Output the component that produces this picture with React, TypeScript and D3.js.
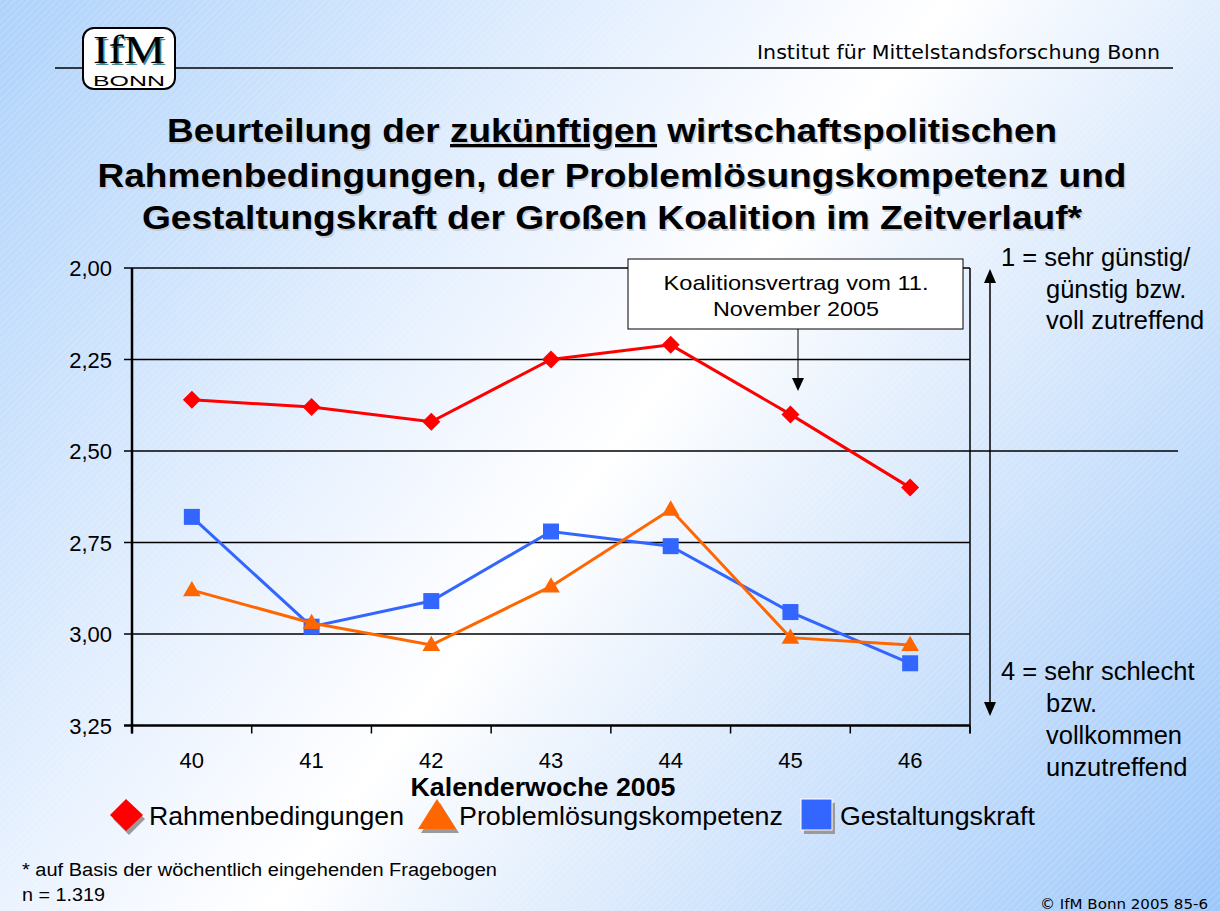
import React from "react";
import * as d3 from "d3";

const weeks = ["40", "41", "42", "43", "44", "45", "46"];
const rahmen = [2.36, 2.38, 2.42, 2.25, 2.21, 2.4, 2.6];
const problem = [2.88, 2.97, 3.03, 2.87, 2.66, 3.01, 3.03];
const gestalt = [2.68, 2.98, 2.91, 2.72, 2.76, 2.94, 3.08];
const yTicks = [2, 2.25, 2.5, 2.75, 3, 3.25];
const seriesNames = ["Rahmenbedingungen", "Problemlösungskompetenz", "Gestaltungskraft"];
const seriesColors = ["#ff0000", "#ff6600", "#3366ff"];
const titleLines = [
  ["Beurteilung der ", "zukünftigen", " wirtschaftspolitischen"],
  ["Rahmenbedingungen, der Problemlösungskompetenz und"],
  ["Gestaltungskraft der Großen Koalition im Zeitverlauf*"],
];
const scaleTop = ["1 = sehr günstig/", "günstig bzw.", "voll zutreffend"];
const scaleBottom = ["4 = sehr schlecht", "bzw.", "vollkommen", "unzutreffend"];
const annotation = ["Koalitionsvertrag vom 11.", "November 2005"];
const xTitle = "Kalenderwoche 2005";
const header = "Institut für Mittelstandsforschung Bonn";
const footnote = "* auf Basis der wöchentlich eingehenden Fragebogen";
const nText = "n = 1.319";
const copyright = "© IfM Bonn 2005  85-6";

const W = 1220;
const H = 911;
const plot = { left: 132, right: 970, top: 268, bottom: 725.5 };
const ARIAL = "Arial, 'Liberation Sans', sans-serif";
const TAHOMA = "Tahoma, 'DejaVu Sans', sans-serif";

export default function App() {
  const x = d3.scalePoint<string>().domain(weeks).range([plot.left, plot.right]).padding(0.5);
  const step = x.step();
  const y = d3.scaleLinear().domain([2, 3.25]).range([plot.top, plot.bottom]);
  const fmt = (v: number) => d3.format(".2f")(v).replace(".", ",");
  const line = d3
    .line<number>()
    .x((_, i) => x(weeks[i]) as number)
    .y((d) => y(d));

  const diamond = d3.symbol(d3.symbolSquare, 162)();
  const square = d3.symbol(d3.symbolSquare, 256)();
  const tri = d3.symbol(d3.symbolTriangle, 135)();

  const boundaries = d3.range(weeks.length + 1).map((i) => plot.left + i * step);

  const drawSeries = (vals: number[], color: string, kind: string, key: string) => (
    <g key={key}>
      <path d={line(vals) as string} fill="none" stroke={color} strokeWidth={3} />
      {vals.map((v, i) => {
        const cx = x(weeks[i]) as number;
        const cy = y(v);
        if (kind === "diamond")
          return <path key={i} d={diamond as string} fill={color} transform={`translate(${cx},${cy}) rotate(45)`} />;
        if (kind === "square")
          return <path key={i} d={square as string} fill={color} transform={`translate(${cx},${cy})`} />;
        return <path key={i} d={tri as string} fill={color} transform={`translate(${cx},${cy + 1})`} />;
      })}
    </g>
  );

  const titleWidths = [890, 1029, 940];
  const titleBase = [142, 187, 229];

  return (
    <svg width={W} height={H} style={{ position: "absolute", left: 0, top: 0 }} fontFamily={ARIAL}>
      <defs>
        <linearGradient id="bg" gradientUnits="userSpaceOnUse" x1={0} y1={0} x2={W} y2={H}>
          <stop offset="0" stopColor="#aed2fb" />
          <stop offset="0.42" stopColor="#f4f8ff" />
          <stop offset="0.5" stopColor="#ffffff" />
          <stop offset="0.62" stopColor="#e6f0fd" />
          <stop offset="1" stopColor="#9cc7fa" />
        </linearGradient>
        <pattern id="hatch" width={5} height={5} patternUnits="userSpaceOnUse" patternTransform="rotate(45)">
          <line x1={0} y1={0} x2={0} y2={5} stroke="#ffffff" strokeWidth={1} opacity={0.35} />
        </pattern>
      </defs>
      <rect x={0} y={0} width={W} height={H} fill="url(#bg)" />
      <rect x={0} y={0} width={W} height={H} fill="url(#hatch)" />

      {/* header */}
      <line x1={55} x2={83} y1={68} y2={68} stroke="#000" strokeWidth={1.5} />
      <line x1={175} x2={1173} y1={68} y2={68} stroke="#000" strokeWidth={1.5} />
      <rect x={83} y={28} width={92} height={61} rx={11} fill="#fff" stroke="#000" strokeWidth={2} />
      <text x={130.5} y={64.5} textAnchor="middle" fontFamily="'Liberation Serif', 'DejaVu Serif', serif" fontSize={40} fill="#3a8a99" textLength={72} lengthAdjust="spacingAndGlyphs">IfM</text>
      <text x={129} y={63} textAnchor="middle" fontFamily="'Liberation Serif', 'DejaVu Serif', serif" fontSize={40} fill="#000" textLength={72} lengthAdjust="spacingAndGlyphs">IfM</text>
      <text x={129} y={86} textAnchor="middle" fontFamily={ARIAL} fontSize={15} textLength={72} lengthAdjust="spacingAndGlyphs">BONN</text>
      <text x={757} y={59} fontFamily={TAHOMA} fontSize={19} textLength={403} lengthAdjust="spacingAndGlyphs">{header}</text>

      {/* title */}
      {titleLines.map((parts, li) => (
        <g key={li} fontWeight="bold" fontSize={33}>
          <text x={612 + 1.5} y={titleBase[li] + 1.5} textAnchor="middle" fill="#c4ccd6" textLength={titleWidths[li]} lengthAdjust="spacingAndGlyphs">
            {parts.map((p, pi) => (
              <tspan key={pi}>{p}</tspan>
            ))}
          </text>
          <text x={612} y={titleBase[li]} textAnchor="middle" fill="#000" textLength={titleWidths[li]} lengthAdjust="spacingAndGlyphs">
            {parts.map((p, pi) => (
              <tspan key={pi} style={pi === 1 ? { textDecoration: "underline" } : undefined}>{p}</tspan>
            ))}
          </text>
        </g>
      ))}

      {/* grid + axes */}
      {yTicks.map((t) => (
        <g key={t}>
          <line
            x1={plot.left - 8}
            x2={t === 2.5 ? 1178 : plot.right}
            y1={y(t)}
            y2={y(t)}
            stroke="#000"
            strokeWidth={t === 3.25 ? 2.5 : 1.5}
          />
          <text x={112} y={y(t) + 8} textAnchor="end" fontSize={22}>{fmt(t)}</text>
        </g>
      ))}
      <line x1={plot.left} x2={plot.left} y1={plot.top} y2={plot.bottom + 8} stroke="#000" strokeWidth={2.5} />
      <line x1={plot.right} x2={plot.right} y1={plot.top} y2={plot.bottom + 8} stroke="#000" strokeWidth={1.5} />
      {boundaries.map((bx, i) => (
        <line key={i} x1={bx} x2={bx} y1={plot.bottom} y2={plot.bottom + 8} stroke="#000" strokeWidth={1.5} />
      ))}
      {weeks.map((w) => (
        <text key={w} x={x(w) as number} y={768} textAnchor="middle" fontSize={22}>{w}</text>
      ))}
      <text x={543} y={796} textAnchor="middle" fontSize={25} fontWeight="bold" textLength={265} lengthAdjust="spacingAndGlyphs">{xTitle}</text>

      {/* series */}
      {drawSeries(rahmen, seriesColors[0], "diamond", "r")}
      {drawSeries(gestalt, seriesColors[2], "square", "g")}
      {drawSeries(problem, seriesColors[1], "tri", "p")}

      {/* annotation */}
      <rect x={628} y={259} width={335} height={70} fill="#fff" stroke="#000" strokeWidth={1} />
      <text x={796} y={290} textAnchor="middle" fontSize={21} textLength={265} lengthAdjust="spacingAndGlyphs">{annotation[0]}</text>
      <text x={796} y={316} textAnchor="middle" fontSize={21} textLength={166} lengthAdjust="spacingAndGlyphs">{annotation[1]}</text>
      <line x1={798} x2={798} y1={329} y2={380} stroke="#000" strokeWidth={1} />
      <path d="M792,378 L804,378 L798,391 Z" fill="#000" />

      {/* right scale arrow */}
      <line x1={990} x2={990} y1={280} y2={705} stroke="#000" strokeWidth={1.5} />
      <path d="M984,283 L996,283 L990,269 Z" fill="#000" />
      <path d="M984,702 L996,702 L990,716 Z" fill="#000" />
      {scaleTop.map((s, i) => (
        <text key={s} x={i === 0 ? 1001 : 1046} y={266 + i * 31.5} fontSize={25.5}>{s}</text>
      ))}
      {scaleBottom.map((s, i) => (
        <text key={s} x={i === 0 ? 1001 : 1046} y={680 + i * 32} fontSize={25.5}>{s}</text>
      ))}

      {/* legend */}
      <g>
        <path d="M129,803 L145,819 L129,835 L113,819 Z" fill="#9a9a9a" />
        <path d="M126,799 L143,815 L126,831 L110,815 Z" fill={seriesColors[0]} />
        <text x={149} y={825} fontSize={26} textLength={255} lengthAdjust="spacingAndGlyphs">{seriesNames[0]}</text>
        <path d="M421,833 L459,833 L440,803 Z" fill="#9a9a9a" />
        <path d="M418,829 L456,829 L437,799 Z" fill={seriesColors[1]} />
        <text x={459} y={825} fontSize={26} textLength={324} lengthAdjust="spacingAndGlyphs">{seriesNames[1]}</text>
        <rect x={804} y={803} width={31} height={31} fill="#9a9a9a" />
        <rect x={801} y={799} width={31} height={31} fill={seriesColors[2]} stroke="#fff" strokeWidth={1} />
        <text x={840} y={825} fontSize={26} textLength={195} lengthAdjust="spacingAndGlyphs">{seriesNames[2]}</text>
      </g>

      {/* footer */}
      <text x={22} y={876} fontSize={18} textLength={475} lengthAdjust="spacingAndGlyphs">{footnote}</text>
      <text x={22} y={901} fontSize={18} textLength={83} lengthAdjust="spacingAndGlyphs">{nText}</text>
      <text x={1208} y={909} textAnchor="end" fontFamily={TAHOMA} fontSize={14} textLength={168} lengthAdjust="spacingAndGlyphs">{copyright}</text>
    </svg>
  );
}
